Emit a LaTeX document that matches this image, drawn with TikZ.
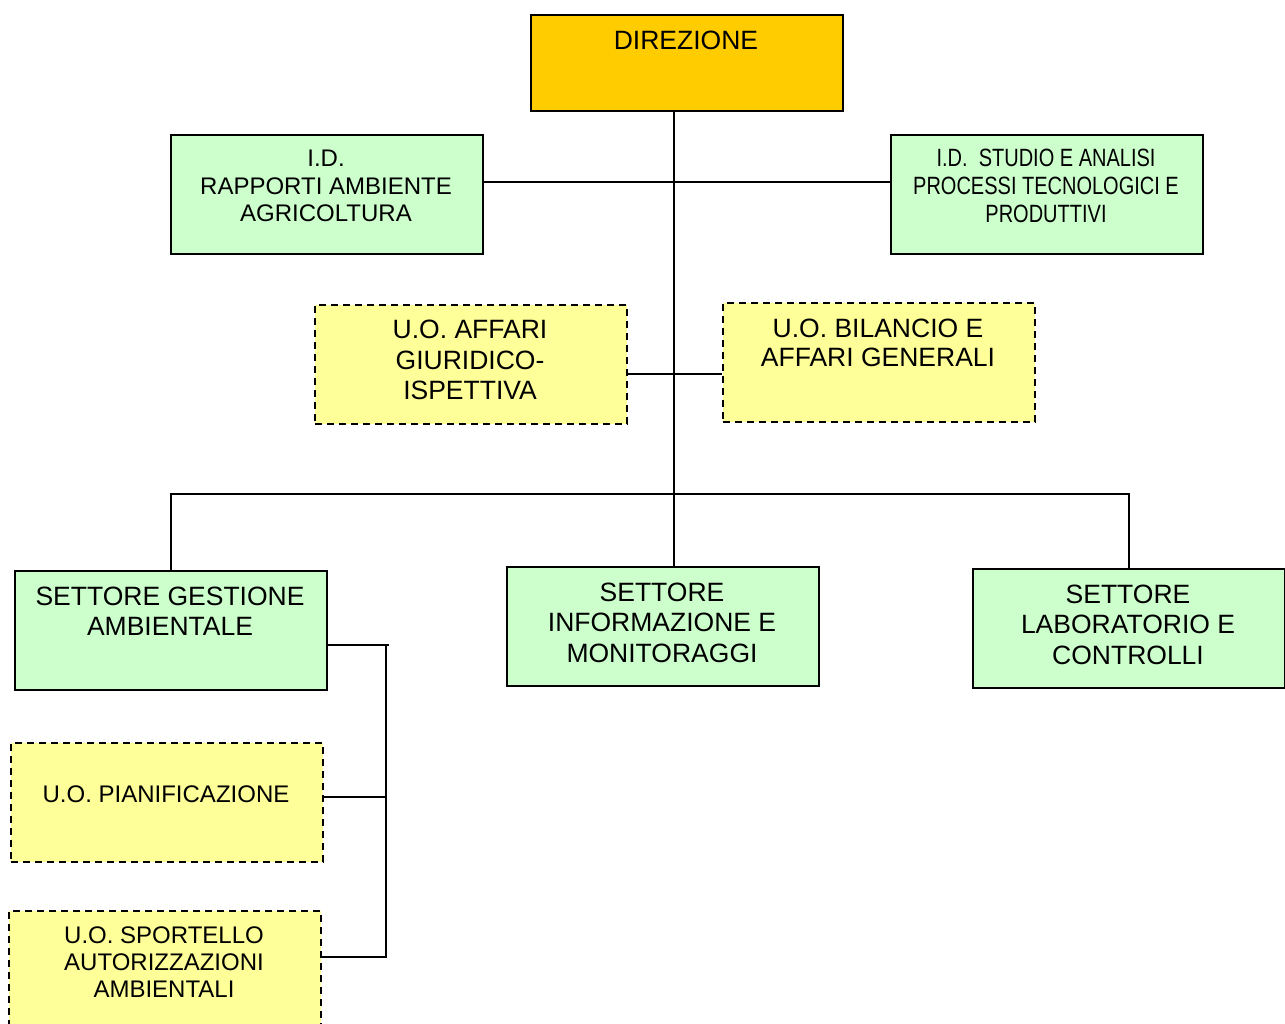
\documentclass[tikz,border=0pt]{standalone}
\usepackage{fontspec}
\setmainfont{Liberation Sans}
\newfontfamily\narrowfont[FakeStretch=0.8]{Liberation Sans}
\definecolor{boxgreen}{HTML}{CCFFCC}
\definecolor{boxyellow}{HTML}{FFFF99}
\definecolor{boxgold}{HTML}{FFCC00}
\tikzset{
  orgbox/.style={draw=black, line width=1.6pt, rectangle, minimum width=312pt, minimum height=119pt, anchor=north west, inner sep=0pt},
  greenbox/.style={orgbox, fill=boxgreen},
  yellowbox/.style={orgbox, fill=boxyellow, dash pattern=on 7pt off 5pt},
  goldbox/.style={orgbox, fill=boxgold, minimum height=96pt},
  big/.style={align=center, inner sep=0pt, font=\fontsize{26.5}{30.5}\selectfont},
  mid/.style={align=center, inner sep=0pt, font=\fontsize{24}{27.5}\selectfont},
  narrow/.style={align=center, inner sep=0pt, font=\narrowfont\fontsize{25}{28}\selectfont},
  conn/.style={draw=black, line width=1.6pt}
}
\begin{document}
\begin{tikzpicture}[x=1pt,y=-1pt]
\useasboundingbox (0,0) rectangle (1285,1024);
\clip (0,0) rectangle (1285,1024);
\fill[white] (0,0) rectangle (1285,1024);

% boxes
\node[goldbox] (dir) at (530,14) {};
\node[greenbox] (idl) at (170,134) {};
\node[greenbox] (idr) at (890,134) {};
\node[yellowbox] (uoa) at (314,304) {};
\node[yellowbox] (uob) at (722,302) {};
\node[greenbox] (ges) at (14,570) {};
\node[greenbox] (info) at (506,566) {};
\node[greenbox] (lab) at (972,568) {};
\node[yellowbox] (pia) at (10,742) {};
\node[yellowbox] (spo) at (8,910) {};

% texts
\node[big] (dirt) at (686,40) {DIREZIONE};
\node[mid] (idlt) at (326,186) {I.D.\\RAPPORTI AMBIENTE\\AGRICOLTURA};
\node[narrow] (idrt) at (1046,186) {I.D.\ \ STUDIO E ANALISI\\PROCESSI TECNOLOGICI E\\PRODUTTIVI};
\node[big] (uoat) at (470,360) {U.O. AFFARI\\GIURIDICO-\\ISPETTIVA};
\node[big, font=\fontsize{26.5}{29}\selectfont] (uobt) at (878,342.5) {U.O. BILANCIO E\\AFFARI GENERALI};
\node[big, font=\fontsize{26.5}{30}\selectfont] (gest) at (170,611) {SETTORE GESTIONE\\AMBIENTALE};
\node[big] (infot) at (662,622.5) {SETTORE\\INFORMAZIONE E\\MONITORAGGI};
\node[big] (labt) at (1128,624.5) {SETTORE\\LABORATORIO E\\CONTROLLI};
\node[mid] (piat) at (166,794) {U.O. PIANIFICAZIONE};
\node[mid, font=\fontsize{24}{27}\selectfont] (spot) at (164,962) {U.O. SPORTELLO\\AUTORIZZAZIONI\\AMBIENTALI};

% connector coordinates
\coordinate (bar) at (674,494);
\coordinate (idy) at (674,182);
\coordinate (uoy) at (674,374);
\coordinate (sb) at (386,645);
\coordinate (sbt) at (389,645);
\coordinate (sbp) at (386,797);
\coordinate (sbs) at (386,957);

% connectors
\draw[conn] (dir.south -| bar) -- (bar) -- (info.north -| bar);
\draw[conn] (idl.east |- idy) -- (idr.west |- idy);
\draw[conn] (uoa.east |- uoy) -- (uob.west |- uoy);
\draw[conn] (ges.north) -- (ges.north |- bar) -- (lab.north |- bar) -- (lab.north);
\draw[conn] (ges.east |- sb) -- (sbt);
\draw[conn] (sb) -- (sbs) -- (spo.east |- sbs);
\draw[conn] (pia.east |- sbp) -- (sbp);
\end{tikzpicture}
\end{document}
